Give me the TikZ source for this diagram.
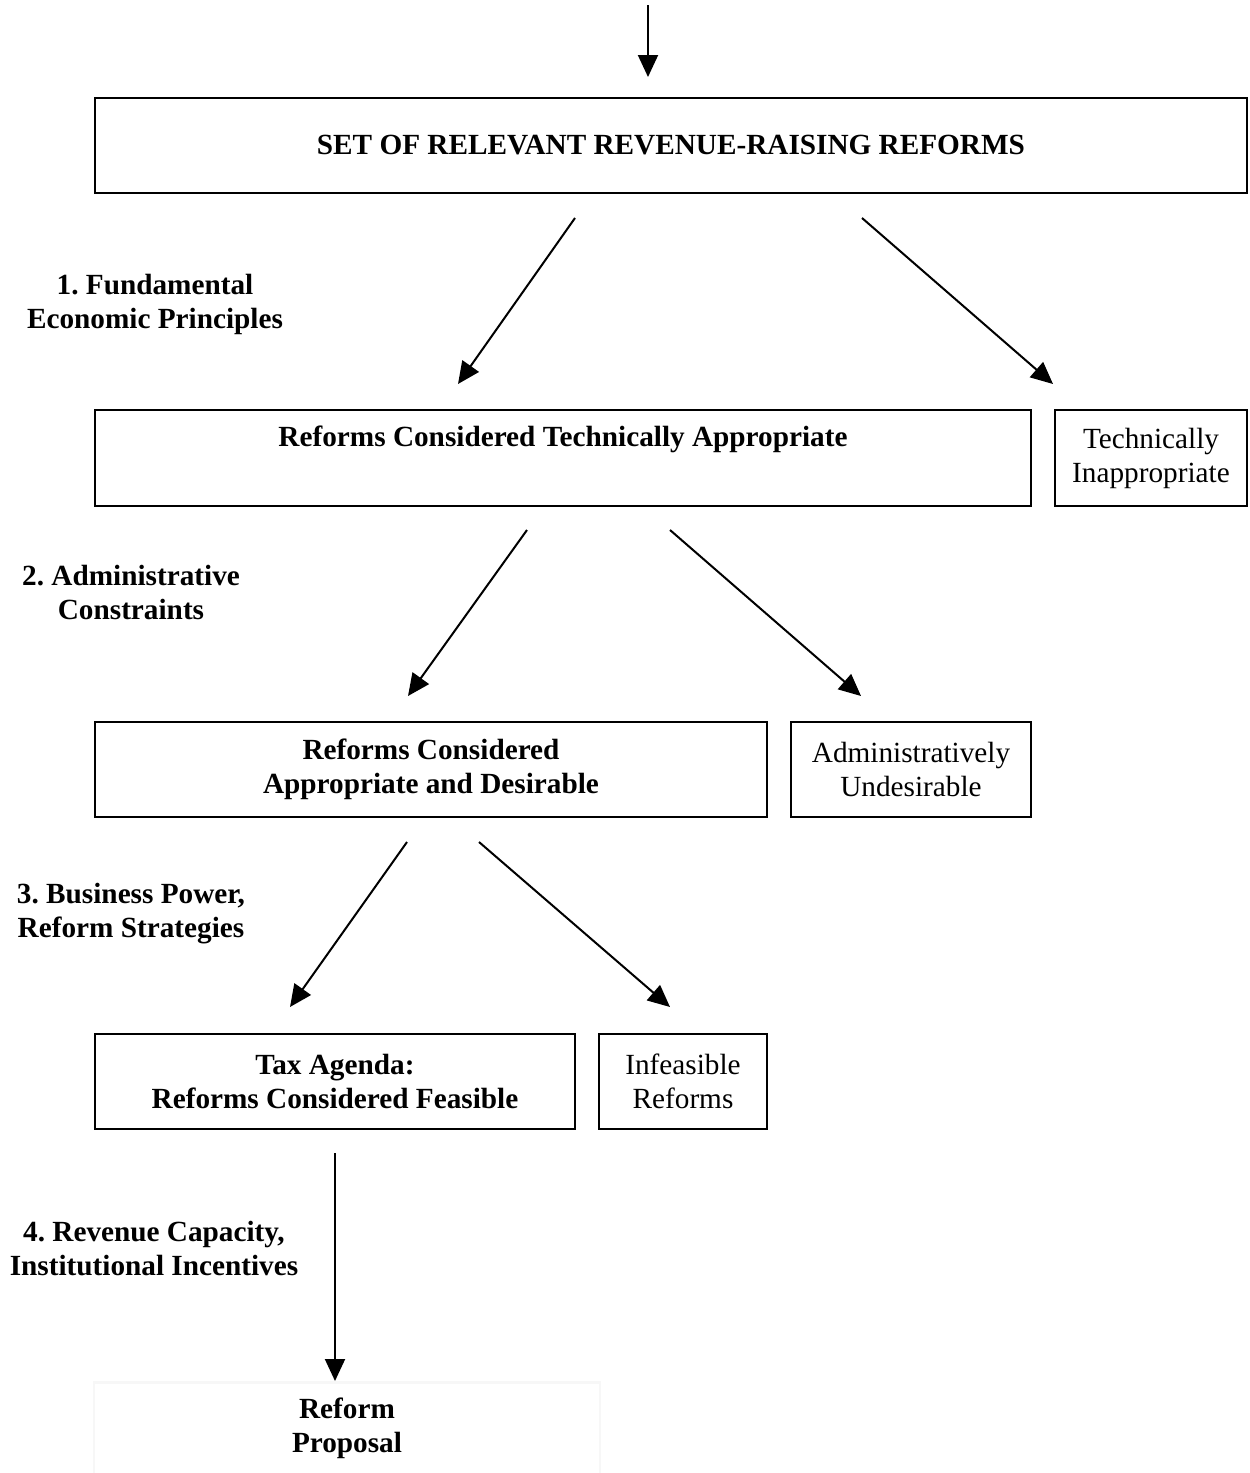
\documentclass[tikz,border=0pt]{standalone}
\usepackage{fontspec}
\setmainfont{Liberation Serif}
\usetikzlibrary{arrows.meta}
\frenchspacing
\begin{document}
\begin{tikzpicture}[x=0.4pt,y=-0.4pt,
  box/.style={draw,line width=1pt,inner sep=0pt,align=center,font=\fontsize{11.7}{13.6}\selectfont},
  bbox/.style={box,font=\fontsize{11.7}{13.6}\selectfont\bfseries},
  lbl/.style={align=center,inner sep=0pt,font=\fontsize{11.7}{13.6}\selectfont\bfseries},
  arr/.style={line width=0.8pt,-{Triangle[length=8.8pt,width=8pt]}}]
\useasboundingbox (0,0) rectangle (1249,1473);
\node[bbox,minimum width=460.8pt,minimum height=38pt] (b1) at (671,145.5) {SET OF RELEVANT REVENUE-RAISING REFORMS};
\node[box,minimum width=374.4pt,minimum height=38.4pt] (b2) at (563,458) {};
\node[lbl] (t2) at (563,439) {Reforms Considered Technically Appropriate};
\node[box,minimum width=76.8pt,minimum height=38.4pt] (ti) at (1151,458) {Technically\\Inappropriate};
\node[bbox,minimum width=268.8pt,minimum height=38pt] (b3) at (431,769.5) {Reforms Considered\\Appropriate and Desirable};
\node[box,minimum width=96pt,minimum height=38pt] (au) at (911,769.5) {Administratively\\Undesirable};
\node[bbox,minimum width=192pt,minimum height=38pt] (b4) at (335,1081.5) {Tax Agenda:\\Reforms Considered Feasible};
\node[box,minimum width=67.2pt,minimum height=38pt] (inf) at (683,1081.5) {Infeasible\\Reforms};
\node[bbox,draw=black!3,minimum width=202.4pt,minimum height=40pt,anchor=north] (b5) at (347,1381) {};
\node[lbl] (t5) at (347,1428) {Reform\\Proposal};
\node[lbl] (l1) at (155,304) {1. Fundamental\\Economic Principles};
\node[lbl] (l2) at (131,592) {2. Administrative\\Constraints};
\node[lbl] (l3) at (131,914) {3. Business Power,\\Reform Strategies};
\node[lbl] (l4) at (154,1249) {4. Revenue Capacity,\\Institutional Incentives};
\coordinate (s0) at (648,5); \coordinate (e0) at (648,77);
\coordinate (s1) at (575,218); \coordinate (e1) at (458,384);
\coordinate (s2) at (862,218); \coordinate (e2) at (1053,384);
\coordinate (s3) at (527,530); \coordinate (e3) at (408,696);
\coordinate (s4) at (670,530); \coordinate (e4) at (861,696);
\coordinate (s5) at (407,842); \coordinate (e5) at (290,1007);
\coordinate (s6) at (479,842); \coordinate (e6) at (670,1007);
\coordinate (s7) at (335,1153); \coordinate (e7) at (335,1381);
\foreach \i in {0,...,7} \draw[arr] (s\i) -- (e\i);
\end{tikzpicture}
\end{document}
